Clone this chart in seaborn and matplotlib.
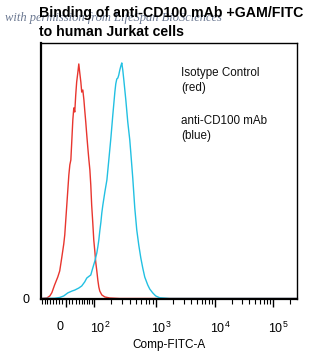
import numpy as np
import pandas as pd
import matplotlib
matplotlib.use("Agg")
import matplotlib.pyplot as plt
import matplotlib.transforms as mtransforms
import seaborn as sns

# ---------------- data (fluorescence channel value, relative count) ----------------
red_x = [-86, -61, -50, -43, -34, -24, -18, -12, -6, -3, 3, 9, 12, 15, 18, 21, 24, 27,
         30, 33, 37, 40, 43, 47, 50, 54, 58, 61, 65, 69, 73, 77, 82, 86, 90, 95, 100,
         105, 109, 114, 119, 124, 129, 140, 158, 191, 277, 1000, 10000, 262144]
red_y = [0, 0.2, 1.0, 2.3, 5.3, 8.4, 10.8, 15.9, 21.3, 24.9, 36.6, 48.3, 52.3, 54.2,
         62.0, 69.9, 74.6, 73.0, 79.6, 84.7, 88.6, 91.8, 88.6, 84.7, 80.8, 81.6, 77.7,
         73.8, 69.1, 64.0, 59.3, 55.0, 50.3, 44.4, 36.6, 29.9, 22.9, 18.2, 14.2, 10.8,
         7.2, 4.5, 2.9, 1.4, 0.6, 0.2, 0, 0, 0, 0]

blue_x = [-86, -34, -18, -6, 6, 18, 27, 40, 50, 61, 69, 77, 86, 95, 105, 114, 119, 124,
          129, 135, 140, 146, 158, 171, 184, 199, 214, 231, 239, 248, 258, 267, 277, 288,
          298, 309, 321, 345, 370, 398, 412, 443, 476, 511, 549, 590, 633, 679, 755, 811,
          901, 1002, 1170, 1728, 10000, 262144]
blue_y = [0, 0.1, 0.4, 1.0, 2.2, 2.9, 3.3, 4.1, 4.9, 6.5, 8.0, 8.6, 9.2, 11.9, 14.7,
          17.8, 20.2, 22.9, 26.4, 29.9, 33.5, 36.6, 41.7, 46.4, 54.2, 62.8, 71.8, 80.8,
          84.0, 85.9, 86.3, 87.5, 89.4, 91.0, 92.2, 89.4, 85.5, 77.7, 69.1, 62.0, 57.3,
          47.1, 35.4, 26.8, 20.9, 15.9, 11.9, 8.4, 5.3, 3.7, 2.2, 1.0, 0.3, 0, 0, 0]

samples = ["Isotype Control", "anti-CD100 mAb"]
major_ticks = [0, 100, 1000, 10000, 100000]
major_labels = ["0", r"$10^2$", r"$10^3$", r"$10^4$", r"$10^5$"]
title_text = "Binding of anti-CD100 mAb +GAM/FITC\nto human Jurkat cells"
watermark_text = "with permission from LifeSpan BioSciences"
legend_lines = ["Isotype Control\n(red)", "anti-CD100 mAb\n(blue)"]
x_label = "Comp-FITC-A"

# ---------------- biexponential-like x scale ----------------
W = 75.0
anchor_v = np.array([-1e7, -1e5, -1e4, -1e3, -100, 0, 100, 1e3, 1e4, 1e5, 1e7])
anchor_d = np.array([-5.538, -3.538, -2.547, -1.538, -0.479, 0, 0.479, 1.538, 2.547, 3.538, 5.538])
anchor_h = np.arcsinh(anchor_v / W)


def fwd(v):
    v = np.asarray(v, dtype=float)
    return np.interp(np.arcsinh(v / W), anchor_h, anchor_d)


def inv(d):
    d = np.asarray(d, dtype=float)
    return W * np.sinh(np.interp(d, anchor_d, anchor_h))


df = pd.concat([
    pd.DataFrame({"x": red_x, "count": red_y, "sample": samples[0]}),
    pd.DataFrame({"x": blue_x, "count": blue_y, "sample": samples[1]}),
], ignore_index=True)

sns.set_style("white")
plt.rcParams["font.family"] = ["Liberation Sans", "DejaVu Sans"]
plt.rcParams["mathtext.fontset"] = "custom"
plt.rcParams["mathtext.rm"] = "Liberation Sans"
plt.rcParams["mathtext.it"] = "Liberation Sans"
plt.rcParams["text.color"] = "black"
plt.rcParams["axes.labelcolor"] = "black"
plt.rcParams["xtick.color"] = "black"
plt.rcParams["ytick.color"] = "black"

fig = plt.figure(figsize=(3.35, 3.62), dpi=100)
ax = fig.add_axes([41 / 335, 1 - 298.5 / 362, 256 / 335, 255.5 / 362])
ax.set_xscale("function", functions=(fwd, inv))

sns.lineplot(data=df, x="x", y="count", hue="sample", palette=["#e8352e", "#22c0e2"],
             estimator=None, sort=False, linewidth=1.0, legend=False, ax=ax)

ax.set_xlim(-85, 262144)
ax.set_ylim(0, 100)

# ticks
minor = []
for dec in [10, 100, 1000, 10000]:
    minor += [k * dec for k in range(2 if dec > 10 else 1, 10)]
minor += [200000]
minor += [-k * 10 for k in range(1, 9)]
ax.set_xticks(major_ticks)
ax.set_xticklabels(major_labels)
ax.set_xticks(minor, minor=True)
ax.tick_params(axis="x", which="major", direction="out", length=6, width=1.0,
               labelsize=9, pad=10, colors="black", bottom=True)
ax.tick_params(axis="x", which="minor", direction="out", length=3.5, width=0.8,
               colors="black", bottom=True)
ax.set_yticks([0])
ax.set_yticklabels(["0"])
ax.tick_params(axis="y", length=0, labelsize=9, pad=8, colors="black")

for lab, tv in zip(ax.get_xticklabels(), major_ticks):
    dx = -6 / 100 if tv == 0 else 6 / 100
    lab.set_transform(lab.get_transform() + mtransforms.ScaledTranslation(dx, 0, fig.dpi_scale_trans))

ax.set_xlabel(x_label, fontsize=8.5, labelpad=2, color="black")
ax.set_ylabel("")

for side in ["left", "bottom"]:
    ax.spines[side].set_linewidth(1.6)
for side in ["top", "right"]:
    ax.spines[side].set_linewidth(1.0)
for s in ax.spines.values():
    s.set_color("black")
    s.set_visible(True)

ax.text(0.547, 0.906, legend_lines[0], transform=ax.transAxes, fontsize=8.4,
        va="top", ha="left", linespacing=1.3, color="#111111")
ax.text(0.547, 0.718, legend_lines[1], transform=ax.transAxes, fontsize=8.4,
        va="top", ha="left", linespacing=1.3, color="#111111")

fig.text(5 / 335, 1 - 20.5 / 362, watermark_text, fontsize=9, style="italic",
         family=["Liberation Serif", "DejaVu Serif"], color="#51607e", alpha=0.85,
         va="baseline", ha="left", zorder=1)
fig.text(39 / 335, 1 - 6 / 362, title_text, fontsize=10.2, fontweight="bold",
         va="top", ha="left", linespacing=1.42, zorder=2, color="black")

fig.savefig("out.png", dpi=100, facecolor="white")
